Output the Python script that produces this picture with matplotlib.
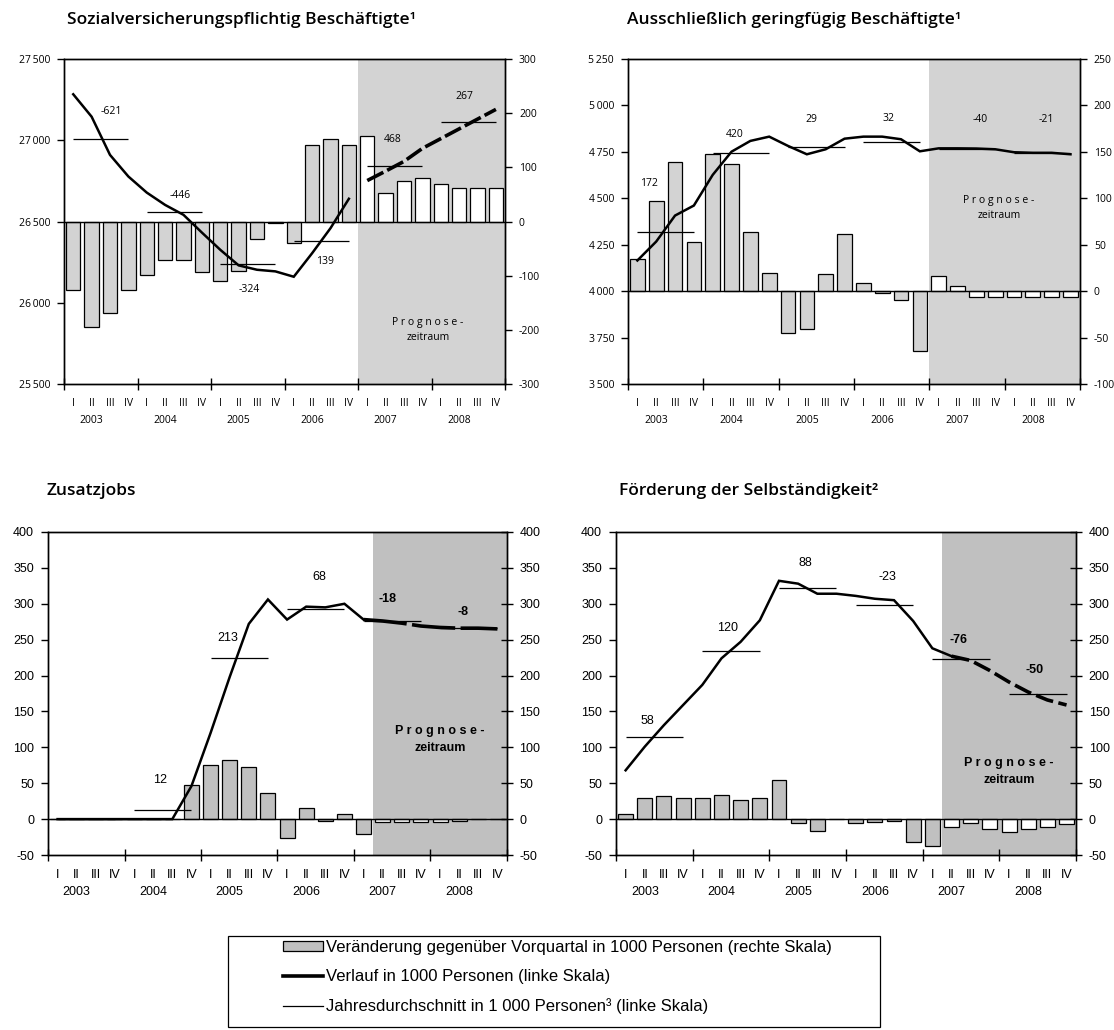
import numpy as np
import matplotlib.pyplot as plt
from matplotlib.patches import Patch, Rectangle
from matplotlib.lines import Line2D

plt.rcParams['font.family'] = ['Open Sans', 'DejaVu Sans']

quarters = ['I', 'II', 'III', 'IV'] * 6
years = ['2003', '2004', '2005', '2006', '2007', '2008']
slots = np.arange(24)

# Sozialversicherungspflichtig Beschaeftigte (1000 Personen)
svb_change = [-127, -195, -169, -127, -99, -72, -72, -93, -110, -91, -32, -3,
              -39, 142, 152, 142, 158, 52, 74, 80, 69, 61, 61, 61]
svb_level = [27283, 27145, 26910, 26777, 26678, 26602, 26541, 26432, 26326, 26230, 26203, 26193,
             26160, 26305, 26459, 26640, 26752, 26810, 26870, 26950, 27010, 27070, 27130, 27190]
svb_avg = [27010, 26559, 26238, 26377, 26844, 27115]
svb_avg_lbl = ['-621', '-446', '-324', '139', '468', '267']

# Ausschliesslich geringfuegig Beschaeftigte
geb_change = [35, 97.5, 139.5, 53, 148, 137, 64, 20, -45, -40.5, 18, 62,
              9, -2, -10, -65, 16, 6, -6, -6, -6, -6, -6, -6]
geb_level = [4165, 4267, 4407, 4461, 4626, 4751, 4809, 4832, 4782, 4737, 4764, 4821,
             4832, 4832, 4818, 4753, 4769, 4769, 4768, 4764, 4748, 4745, 4745, 4737]
geb_avg = [4321, 4742, 4775, 4805, 4767, 4744]
geb_avg_lbl = ['172', '420', '29', '32', '-40', '-21']

# Zusatzjobs
zus_change = [0, 0, 0, 0, 0, 0, 0, 48, 75, 82, 72, 37,
              -27, 16, -2, 6.5, -21, -4, -4, -4, -4, -2, 0, 0]
zus_level = [0, 0, 0, 0, 0, 0, 0, 46, 120, 198, 272, 306,
             278, 296, 295, 300, 278, 276, 273, 269, 267, 266, 266, 265]
zus_avg = [0, 12, 225, 293, 276, 266]
zus_avg_lbl = ['', '12', '213', '68', '-18', '-8']

# Foerderung der Selbstaendigkeit
foe_change = [6.5, 29, 32, 29, 29, 33, 26, 29, 55, -6, -16, 0,
              -6, -4.5, -2, -31.5, -37, -11.6, -6, -14, -17.6, -14, -11.6, -7.4]
foe_level = [68, 101, 131, 159, 187, 224, 247, 277, 332, 328, 314, 314,
             311, 307, 305, 276, 238, 227, 221, 207, 191, 177, 166, 159]
foe_avg = [114, 234, 322, 298.5, 223, 174]
foe_avg_lbl = ['58', '120', '88', '-23', '-76', '-50']

TOP_FONT = ['Open Sans', 'DejaVu Sans']
BOT_FONT = ['Liberation Sans', 'DejaVu Sans']

fig = plt.figure(figsize=(11.14, 10.30), dpi=100)


def fmt_thousands(v):
    return f'{v:,}'.replace(',', '\u2009')


def panel(rect, change, level, avg, avg_lbl, lbl_pos, lims_l, ticks_l, lims_r, ticks_r,
          font, fsize, shade_from, shade_col, bar_col, white_from, solid_end, dash_start,
          dashes, right_dir, bold_from, thousands, prog_pos, prog_bold):
    axb = fig.add_axes(rect)
    axl = axb.twinx()

    axb.axvspan(shade_from - 0.5, 23.5, color=shade_col, lw=0, zorder=0)
    colors = [bar_col if i < white_from else 'white' for i in slots]
    axb.bar(slots, change, width=0.78, color=colors, edgecolor='black', linewidth=0.9, zorder=2)
    axb.axhline(0, color='black', lw=1.0, zorder=3)

    axl.plot(slots[:solid_end + 1], level[:solid_end + 1], color='black', lw=1.8,
             solid_joinstyle='miter', zorder=4)
    if dash_start is not None:
        axl.plot(slots[dash_start:], level[dash_start:], color='black', lw=2.6,
                 dashes=dashes, zorder=4)
    for k, a in enumerate(avg):
        axl.hlines(a, 4 * k, 4 * k + 3, color='black', lw=0.9, zorder=3)
    for k, (txt, pos) in enumerate(zip(avg_lbl, lbl_pos)):
        if not txt:
            continue
        axl.text(pos[0], pos[1], txt, ha='center', va='center', fontsize=fsize,
                 family=font, fontweight='bold' if k >= bold_from else 'normal')
    axl.text(prog_pos[0], prog_pos[1], 'P r o g n o s e -\nzeitraum', ha='center',
             va='center', fontsize=fsize, family=font,
             fontweight='bold' if prog_bold else 'normal', linespacing=1.5)

    axb.set_xlim(-0.5, 23.5)
    axb.set_ylim(*lims_r)
    axl.set_ylim(*lims_l)

    axb.yaxis.tick_right()
    axl.yaxis.tick_left()
    axb.set_yticks(ticks_r, [str(t) for t in ticks_r], family=font, fontsize=fsize)
    lab_l = [fmt_thousands(t) for t in ticks_l] if thousands else [str(t) for t in ticks_l]
    axl.set_yticks(ticks_l, lab_l, family=font, fontsize=fsize)
    axl.tick_params(axis='y', direction='out', length=5, width=1, pad=5)
    axb.tick_params(axis='y', direction=right_dir, length=5 if right_dir == 'out' else 8,
                    width=1, pad=5)

    axb.set_xticks(np.arange(-0.5, 24, 4))
    axb.set_xticklabels([])
    axb.tick_params(axis='x', which='major', direction='inout', length=8, width=1)
    axb.set_xticks(slots, minor=True)
    axb.set_xticklabels(quarters, minor=True, family=font, fontsize=fsize)
    axb.tick_params(axis='x', which='minor', length=0, pad=10)
    for k, y in enumerate(years):
        axb.annotate(y, xy=(4 * k + 1.0, 0), xycoords=('data', 'axes fraction'),
                     xytext=(0, -22), textcoords='offset points', ha='center', va='top',
                     family=font, fontsize=fsize)

    for ax in (axb, axl):
        for s in ax.spines.values():
            s.set_linewidth(1.0)
    return axb, axl


panel([0.0575, 0.6272, 0.3959, 0.3155], svb_change, svb_level, svb_avg, svb_avg_lbl,
      [(2.06, 27176), (5.84, 26660), (9.57, 26080), (13.7, 26254), (17.39, 27002), (21.27, 27268)],
      (25500, 27500), [25500, 26000, 26500, 27000, 27500], (-300, 300), list(range(-300, 301, 100)),
      TOP_FONT, 7.5, 16, '#d3d3d3', '#d3d3d3', 16, 15, 16, (5, 1.2), 'out', 99, True,
      (19.3, 25835), False)

panel([0.5637, 0.6272, 0.4057, 0.3155], geb_change, geb_level, geb_avg, geb_avg_lbl,
      [(0.64, 4581), (5.15, 4845), (9.26, 4922), (13.33, 4931), (18.2, 4925), (21.7, 4922)],
      (3500, 5250), list(range(3500, 5251, 250)), (-100, 250), list(range(-100, 251, 50)),
      TOP_FONT, 7.5, 16, '#d3d3d3', '#d3d3d3', 16, 23, None, None, 'out', 99, True,
      (19.2, 4447), False)

panel([0.0431, 0.1699, 0.4120, 0.3136], zus_change, zus_level, zus_avg, zus_avg_lbl,
      [(0, 0), (5.38, 55), (8.88, 253), (13.7, 337), (17.24, 306), (21.2, 289)],
      (-50, 400), list(range(-50, 401, 50)), (-50, 400), list(range(-50, 401, 50)),
      BOT_FONT, 9, 17, '#c0c0c0', '#c0c0c0', 17, 16, 16, (12, 1.5), 'inout', 4, False,
      (20.0, 111), True)

panel([0.5530, 0.1699, 0.4130, 0.3136], foe_change, foe_level, foe_avg, foe_avg_lbl,
      [(1.12, 137), (5.32, 266), (9.36, 357), (13.64, 337), (17.36, 250), (21.32, 208)],
      (-50, 400), list(range(-50, 401, 50)), (-50, 400), list(range(-50, 401, 50)),
      BOT_FONT, 9, 17, '#c0c0c0', '#c0c0c0', 17, 17, 17, (5, 1.5), 'inout', 4, False,
      (20.0, 66), True)

title_kw = dict(fontsize=12.5, fontweight='semibold', va='center', ha='left')
fig.text(67 / 1114, 1 - 20 / 1030, 'Sozialversicherungspflichtig Beschäftigte\u00b9', **title_kw)
fig.text(627 / 1114, 1 - 20 / 1030, 'Ausschließlich geringfügig Beschäftigte\u00b9', **title_kw)
fig.text(46 / 1114, 1 - 491 / 1030, 'Zusatzjobs', **title_kw)
fig.text(619 / 1114, 1 - 491 / 1030, 'Förderung der Selbständigkeit\u00b2', **title_kw)

# legend
handles = [Patch(facecolor='#c0c0c0', edgecolor='black', linewidth=0.9),
           Line2D([], [], color='black', lw=2.6),
           Line2D([], [], color='black', lw=0.9)]
labels = ['Veränderung gegenüber Vorquartal in 1000 Personen (rechte Skala)',
          'Verlauf in 1000 Personen (linke Skala)',
          'Jahresdurchschnitt in 1 000 Personen\u00b3 (linke Skala)']
fig.legend(handles, labels, loc='upper left', bbox_to_anchor=(283 / 1114, 1 - 940 / 1030),
           frameon=False, borderpad=0, borderaxespad=0, handlelength=2.4, handleheight=0.6,
           handletextpad=0.2, labelspacing=0.85, prop={'family': BOT_FONT, 'size': 12})
fig.add_artist(Rectangle((228 / 1114, 1 - 1027 / 1030), 652 / 1114, 91 / 1030,
                         transform=fig.transFigure, fill=False, edgecolor='black', lw=0.9))

fig.savefig('out.png', dpi=100)
